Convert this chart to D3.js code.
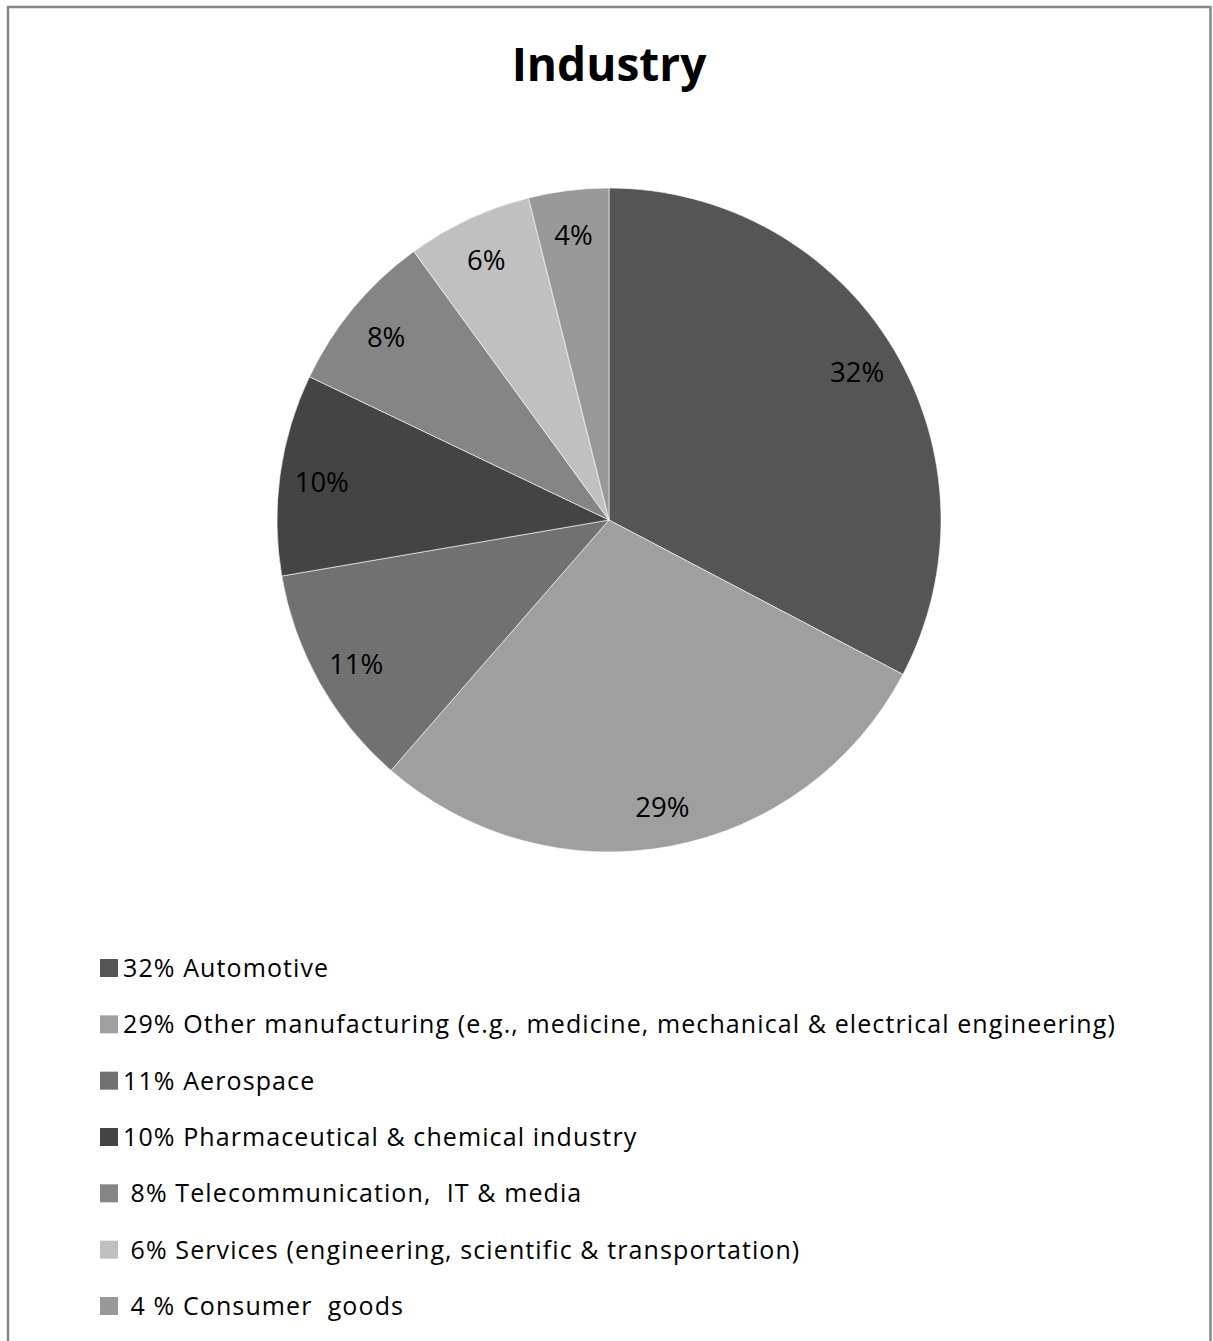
<!DOCTYPE html>
<html>
<head>
<meta charset="utf-8">
<script src="https://cdn.jsdelivr.net/npm/d3@7"></script>
<style>
  html, body { margin: 0; padding: 0; background: #fff; }
  svg { display: block; }
</style>
</head>
<body>
<svg id="chart" width="1213" height="1341"></svg>
<script>
// ---- data ----
const categories = [
  "Automotive",
  "Other manufacturing",
  "Aerospace",
  "Pharmaceutical & chemical industry",
  "Telecommunication, IT & media",
  "Services",
  "Consumer goods"
];
const values = [32.7, 28.7, 10.9, 9.8, 7.9, 6.1, 3.9];
const sliceLabels = ["32%", "29%", "11%", "10%", "8%", "6%", "4%"];
const legendLabels = [
  "32% Automotive",
  "29% Other manufacturing (e.g., medicine, mechanical & electrical engineering)",
  "11% Aerospace",
  "10% Pharmaceutical & chemical industry",
  " 8% Telecommunication,  IT & media",
  " 6% Services (engineering, scientific & transportation)",
  " 4 % Consumer  goods"
];
const colors = ["#555555", "#9f9f9f", "#717171", "#444444", "#858585", "#c0c0c0", "#999999"];
const title = "Industry";

// ---- layout ----
const svg = d3.select("#chart");
const cx = 609, cy = 520, R = 332, labelR = 290;

// frame
svg.append("rect")
  .attr("x", 8).attr("y", 7)
  .attr("width", 1202.5).attr("height", 1345)
  .attr("fill", "none")
  .attr("stroke", "#868686")
  .attr("stroke-width", 2.5);

// title
svg.append("text")
  .attr("x", 609).attr("y", 81)
  .attr("text-anchor", "middle")
  .attr("font-family", "'Open Sans', sans-serif")
  .attr("font-weight", "bold")
  .attr("font-size", 46)
  .attr("fill", "#000")
  .text(title);

const color = d3.scaleOrdinal().domain(categories).range(colors);

const pie = d3.pie().sort(null).value(d => d.v);
const data = categories.map((c, i) => ({ c, v: values[i], lab: sliceLabels[i] }));
const arcs = pie(data);

const arc = d3.arc().innerRadius(0).outerRadius(R);
const labelArc = d3.arc().innerRadius(labelR).outerRadius(labelR);

const g = svg.append("g").attr("transform", `translate(${cx},${cy})`);

g.selectAll("path.slice")
  .data(arcs)
  .join("path")
  .attr("class", "slice")
  .attr("d", arc)
  .attr("fill", d => color(d.data.c))
  .attr("stroke", "#ffffff")
  .attr("stroke-width", 0.6);

g.selectAll("text.lbl")
  .data(arcs)
  .join("text")
  .attr("class", "lbl")
  .attr("transform", d => `translate(${labelArc.centroid(d)})`)
  .attr("text-anchor", "middle")
  .attr("dy", "0.45em")
  .attr("font-family", "'Open Sans', sans-serif")
  .attr("font-size", 27.5)
  .attr("fill", "#000")
  .text(d => d.data.lab);

// legend
const legY = d3.scalePoint()
  .domain(categories)
  .range([968, 1306]);

const leg = svg.append("g");
const rows = leg.selectAll("g.row")
  .data(categories)
  .join("g")
  .attr("class", "row")
  .attr("transform", d => `translate(100,${legY(d)})`);

rows.append("rect")
  .attr("x", 0).attr("y", -9)
  .attr("width", 18).attr("height", 18)
  .attr("fill", d => color(d));

rows.append("text")
  .attr("x", 23)
  .attr("dy", "0.36em")
  .attr("font-family", "'Open Sans', sans-serif")
  .attr("font-size", 25)
  .attr("letter-spacing", 1.1)
  .attr("fill", "#000")
  .style("white-space", "pre")
  .text((d, i) => legendLabels[i]);
</script>
</body>
</html>
